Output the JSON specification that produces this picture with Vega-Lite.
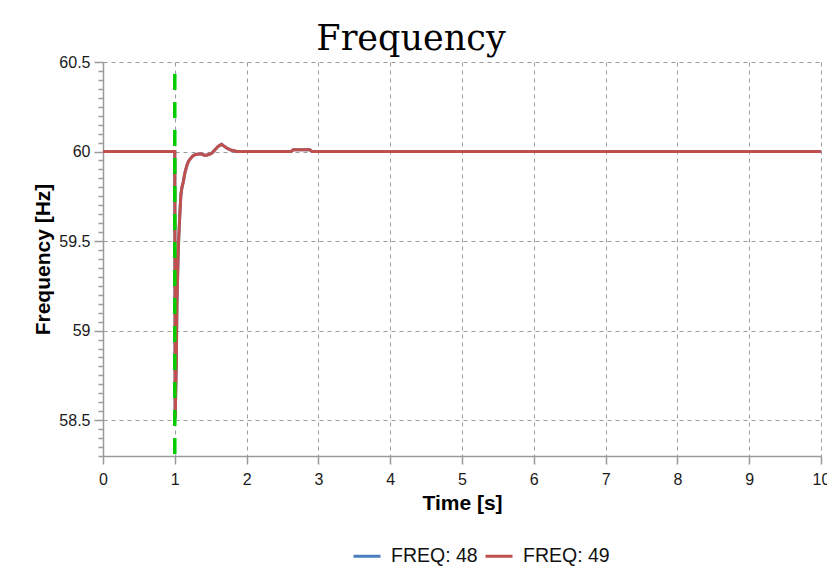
{
  "$schema": "https://vega.github.io/schema/vega-lite/v6.json",
  "autosize": {"type": "none"},
  "padding": {"left": 103, "top": 62, "right": 6, "bottom": 125},
  "width": 718,
  "height": 394,
  "background": "#ffffff",
  "title": {
    "text": "Frequency",
    "font": "DejaVu Serif",
    "fontSize": 35,
    "fontWeight": "normal",
    "color": "#000000",
    "anchor": "middle",
    "frame": "group",
    "dx": -51,
    "offset": -3
  },
  "config": {
    "view": {"stroke": null},
    "axis": {
      "labelFont": "Liberation Sans",
      "labelFontSize": 16,
      "labelColor": "#1a1a1a",
      "titleFont": "Liberation Sans",
      "titleFontSize": 21,
      "titleFontWeight": "bold",
      "titleColor": "#000000",
      "domainColor": "#9a9a9a",
      "domainWidth": 1.5,
      "tickColor": "#9a9a9a",
      "tickWidth": 1.5,
      "gridColor": "#9a9a9a",
      "gridDash": [4, 4],
      "gridWidth": 1
    }
  },
  "layer": [
    {
      "data": {
        "values": [
          {"series": "FREQ: 48", "t": 0, "f": 60},
          {"series": "FREQ: 48", "t": 1.0, "f": 60},
          {"series": "FREQ: 48", "t": 1.005, "f": 58.51},
          {"series": "FREQ: 48", "t": 1.02, "f": 58.8},
          {"series": "FREQ: 48", "t": 1.03, "f": 59.15},
          {"series": "FREQ: 48", "t": 1.045, "f": 59.4},
          {"series": "FREQ: 48", "t": 1.055, "f": 59.52},
          {"series": "FREQ: 48", "t": 1.07, "f": 59.65},
          {"series": "FREQ: 48", "t": 1.085, "f": 59.76},
          {"series": "FREQ: 48", "t": 1.1, "f": 59.8},
          {"series": "FREQ: 48", "t": 1.118, "f": 59.83},
          {"series": "FREQ: 48", "t": 1.14, "f": 59.88},
          {"series": "FREQ: 48", "t": 1.166, "f": 59.92},
          {"series": "FREQ: 48", "t": 1.19, "f": 59.945},
          {"series": "FREQ: 48", "t": 1.212, "f": 59.958},
          {"series": "FREQ: 48", "t": 1.25, "f": 59.975},
          {"series": "FREQ: 48", "t": 1.281, "f": 59.982},
          {"series": "FREQ: 48", "t": 1.33, "f": 59.986},
          {"series": "FREQ: 48", "t": 1.375, "f": 59.986},
          {"series": "FREQ: 48", "t": 1.41, "f": 59.98},
          {"series": "FREQ: 48", "t": 1.444, "f": 59.98},
          {"series": "FREQ: 48", "t": 1.48, "f": 59.985},
          {"series": "FREQ: 48", "t": 1.514, "f": 59.99},
          {"series": "FREQ: 48", "t": 1.56, "f": 60.01},
          {"series": "FREQ: 48", "t": 1.606, "f": 60.03},
          {"series": "FREQ: 48", "t": 1.653, "f": 60.04},
          {"series": "FREQ: 48", "t": 1.676, "f": 60.033},
          {"series": "FREQ: 48", "t": 1.723, "f": 60.02},
          {"series": "FREQ: 48", "t": 1.76, "f": 60.012},
          {"series": "FREQ: 48", "t": 1.792, "f": 60.007},
          {"series": "FREQ: 48", "t": 1.862, "f": 60.0},
          {"series": "FREQ: 48", "t": 2.62, "f": 60.0},
          {"series": "FREQ: 48", "t": 2.65, "f": 60.01},
          {"series": "FREQ: 48", "t": 2.88, "f": 60.01},
          {"series": "FREQ: 48", "t": 2.91, "f": 60.0},
          {"series": "FREQ: 48", "t": 10, "f": 60},
          {"series": "FREQ: 49", "t": 0, "f": 60},
          {"series": "FREQ: 49", "t": 1.0, "f": 60},
          {"series": "FREQ: 49", "t": 1.005, "f": 58.51},
          {"series": "FREQ: 49", "t": 1.02, "f": 58.8},
          {"series": "FREQ: 49", "t": 1.03, "f": 59.15},
          {"series": "FREQ: 49", "t": 1.045, "f": 59.4},
          {"series": "FREQ: 49", "t": 1.055, "f": 59.52},
          {"series": "FREQ: 49", "t": 1.07, "f": 59.65},
          {"series": "FREQ: 49", "t": 1.085, "f": 59.76},
          {"series": "FREQ: 49", "t": 1.1, "f": 59.8},
          {"series": "FREQ: 49", "t": 1.118, "f": 59.83},
          {"series": "FREQ: 49", "t": 1.14, "f": 59.88},
          {"series": "FREQ: 49", "t": 1.166, "f": 59.92},
          {"series": "FREQ: 49", "t": 1.19, "f": 59.945},
          {"series": "FREQ: 49", "t": 1.212, "f": 59.958},
          {"series": "FREQ: 49", "t": 1.25, "f": 59.975},
          {"series": "FREQ: 49", "t": 1.281, "f": 59.982},
          {"series": "FREQ: 49", "t": 1.33, "f": 59.986},
          {"series": "FREQ: 49", "t": 1.375, "f": 59.986},
          {"series": "FREQ: 49", "t": 1.41, "f": 59.98},
          {"series": "FREQ: 49", "t": 1.444, "f": 59.98},
          {"series": "FREQ: 49", "t": 1.48, "f": 59.985},
          {"series": "FREQ: 49", "t": 1.514, "f": 59.99},
          {"series": "FREQ: 49", "t": 1.56, "f": 60.01},
          {"series": "FREQ: 49", "t": 1.606, "f": 60.03},
          {"series": "FREQ: 49", "t": 1.653, "f": 60.04},
          {"series": "FREQ: 49", "t": 1.676, "f": 60.033},
          {"series": "FREQ: 49", "t": 1.723, "f": 60.02},
          {"series": "FREQ: 49", "t": 1.76, "f": 60.012},
          {"series": "FREQ: 49", "t": 1.792, "f": 60.007},
          {"series": "FREQ: 49", "t": 1.862, "f": 60.0},
          {"series": "FREQ: 49", "t": 2.62, "f": 60.0},
          {"series": "FREQ: 49", "t": 2.65, "f": 60.01},
          {"series": "FREQ: 49", "t": 2.88, "f": 60.01},
          {"series": "FREQ: 49", "t": 2.91, "f": 60.0},
          {"series": "FREQ: 49", "t": 10, "f": 60}
        ]
      },
      "mark": {"type": "line", "strokeWidth": 3, "interpolate": "linear"},
      "encoding": {
        "x": {
          "field": "t",
          "type": "quantitative",
          "scale": {"domain": [0, 10], "nice": false, "zero": false},
          "axis": {
            "title": "Time [s]",
            "values": [0, 1, 2, 3, 4, 5, 6, 7, 8, 9, 10],
            "format": "d",
            "tickSize": 8,
            "labelPadding": 7,
            "titlePadding": 5,
            "labelFlush": false,
            "grid": true
          }
        },
        "y": {
          "field": "f",
          "type": "quantitative",
          "scale": {"domain": [58.3, 60.5], "nice": false, "zero": false},
          "axis": {
            "title": "Frequency [Hz]",
            "values": [58.3, 58.35, 58.4, 58.45, 58.5, 58.55, 58.6, 58.65, 58.7, 58.75, 58.8, 58.85, 58.9, 58.95, 59, 59.05, 59.1, 59.15, 59.2, 59.25, 59.3, 59.35, 59.4, 59.45, 59.5, 59.55, 59.6, 59.65, 59.7, 59.75, 59.8, 59.85, 59.9, 59.95, 60, 60.05, 60.1, 60.15, 60.2, 60.25, 60.3, 60.35, 60.4, 60.45, 60.5],
            "labelExpr": "abs(datum.value*2 - round(datum.value*2)) < 0.001 ? '' + round(datum.value*2)/2 : ''",
            "tickSize": {"condition": {"test": "abs(datum.value*2 - round(datum.value*2)) < 0.001", "value": 9}, "value": 5},
            "gridOpacity": {"condition": {"test": "abs(datum.value*2 - round(datum.value*2)) < 0.001", "value": 1}, "value": 0},
            "labelPadding": 4,
            "titlePadding": 5,
            "labelFlush": false,
            "labelOverlap": false,
            "grid": true
          }
        },
        "color": {
          "field": "series",
          "type": "nominal",
          "scale": {"domain": ["FREQ: 48", "FREQ: 49"], "range": ["#4a7ebf", "#c0504d"]},
          "legend": {
            "title": null,
            "orient": "none",
            "direction": "horizontal",
            "legendX": 249,
            "legendY": 479,
            "labelFont": "Liberation Sans",
            "labelFontSize": 19.5,
            "labelColor": "#111111",
            "labelOffset": 9,
            "columnPadding": 1,
            "symbolType": "stroke",
            "symbolSize": 729,
            "symbolStrokeWidth": 3
          }
        }
      }
    },
    {
      "data": {"values": [{"t": 1}]},
      "mark": {"type": "rule", "color": "#00cc00", "strokeWidth": 3.5, "strokeDash": [16, 12], "strokeDashOffset": 16},
      "encoding": {
        "x": {"field": "t", "type": "quantitative"}
      }
    }
  ]
}
